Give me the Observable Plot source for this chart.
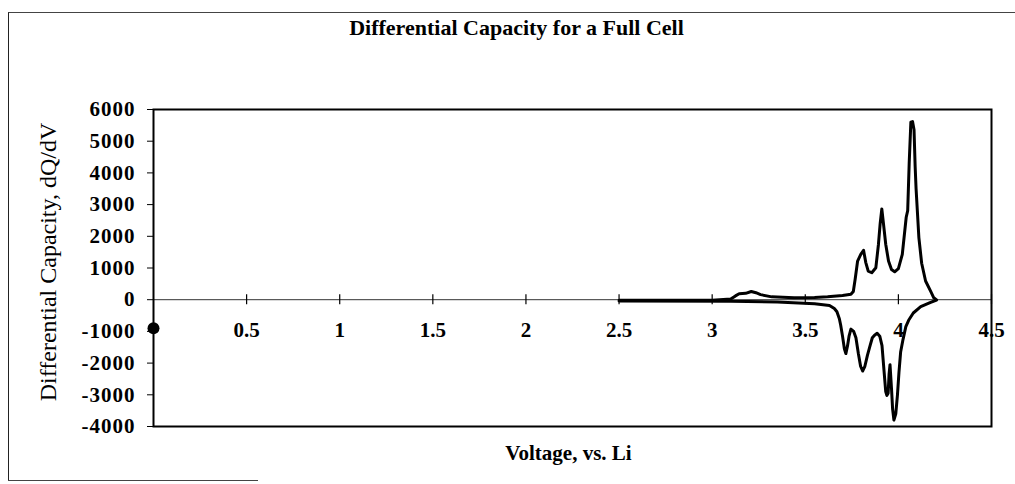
<!DOCTYPE html>
<html><head><meta charset="utf-8">
<script src="https://cdn.jsdelivr.net/npm/d3@7"></script>
<script src="https://cdn.jsdelivr.net/npm/@observablehq/plot@0.6"></script>
<style>
html,body{margin:0;padding:0;background:#fff;}
#wrap{position:relative;width:1015px;height:484px;overflow:hidden;background:#fff;}
#chart{position:absolute;left:0;top:0;}
#chart g[aria-label="y-axis tick label"] text{letter-spacing:1px;}
#outer{position:absolute;left:8px;top:12px;width:1100px;height:468px;border-left:1.5px solid #222;border-top:1.5px solid #444;pointer-events:none;}
#outerBottom{position:absolute;left:8px;top:480px;width:250px;border-top:1.5px solid #444;pointer-events:none;}
</style></head><body>
<div id="wrap"><div id="chart"></div><div id="outer"></div><div id="outerBottom"></div></div>
<script>
// Charge branch (upper, positive dQ/dV)
const chargeV = [2.5, 3.0, 3.1, 3.125, 3.145, 3.18, 3.21, 3.235, 3.26, 3.32, 3.44, 3.55, 3.62, 3.70, 3.745, 3.758, 3.768, 3.781, 3.798, 3.813, 3.825, 3.838, 3.857, 3.879, 3.893, 3.902, 3.911, 3.92, 3.932, 3.947, 3.963, 3.98, 4.0, 4.021, 4.042, 4.05, 4.058, 4.067, 4.076, 4.084, 4.09, 4.095, 4.11, 4.125, 4.146, 4.173, 4.19, 4.205];
const chargeDQ = [-15, -15, 20, 120, 190, 200, 260, 220, 160, 90, 60, 70, 90, 130, 170, 260, 650, 1220, 1430, 1560, 1170, 900, 850, 1010, 1750, 2390, 2860, 2390, 1750, 1220, 950, 880, 980, 1430, 2600, 2810, 4300, 5600, 5620, 5360, 4200, 3500, 1960, 1150, 590, 270, 60, -10];
// Discharge branch (lower, negative dQ/dV), from high to low voltage
const dischargeV = [4.205, 4.17, 4.12, 4.08, 4.055, 4.04, 4.025, 4.012, 4.003, 3.995, 3.986, 3.976, 3.969, 3.963, 3.955, 3.95, 3.945, 3.938, 3.932, 3.923, 3.912, 3.9, 3.886, 3.872, 3.86, 3.848, 3.834, 3.82, 3.808, 3.797, 3.785, 3.772, 3.76, 3.745, 3.735, 3.727, 3.718, 3.71, 3.70, 3.69, 3.683, 3.67, 3.656, 3.63, 3.55, 3.35, 3.1, 2.5];
const dischargeDQ = [-10, -90, -220, -420, -650, -850, -1250, -1650, -2300, -3000, -3600, -3800, -3450, -2800, -2050, -2350, -2950, -3020, -2900, -2250, -1450, -1150, -1060, -1120, -1200, -1450, -1750, -2100, -2250, -2100, -1700, -1200, -1000, -930, -1150, -1450, -1700, -1550, -1150, -800, -600, -380, -280, -180, -130, -75, -45, -40];
// Single marker point
const markerV = [0];
const markerDQ = [-900];
// Axis ticks and labels
const xTicks = [0.5, 1, 1.5, 2, 2.5, 3, 3.5, 4, 4.5];
const xTickLabels = ["0.5", "1", "1.5", "2", "2.5", "3", "3.5", "4", "4.5"];
const yTicks = [-4000, -3000, -2000, -1000, 0, 1000, 2000, 3000, 4000, 5000, 6000];
const titleText = "Differential Capacity for a Full Cell";
const xLabelText = "Voltage, vs. Li";
const yLabelText = "Differential Capacity, dQ/dV";

const loop = [
  ...chargeV.map((v, i) => ({v, q: chargeDQ[i]})),
  ...dischargeV.map((v, i) => ({v, q: dischargeDQ[i]}))
];
const marker = markerV.map((v, i) => ({v, q: markerDQ[i]}));

const plot = Plot.plot({
  width: 1015, height: 484,
  marginLeft: 153, marginRight: 24, marginTop: 109, marginBottom: 58,
  style: {fontFamily: "'Liberation Serif', 'Times New Roman', serif", fontWeight: "bold", color: "#000", background: "transparent", overflow: "visible"},
  x: {domain: [0, 4.5], axis: null},
  y: {domain: [-4000, 6000]},
  marks: [
    Plot.ruleY([0], {stroke: "#333", strokeWidth: 1}),
    Plot.ruleX(xTicks, {x: d => d, y1: -160, y2: 160, stroke: "#000", strokeWidth: 1.2}),
    Plot.text(xTicks, {x: d => d, y: 0, text: (d, i) => xTickLabels[i], dy: 31, lineAnchor: "middle", fontSize: 21, fontWeight: "bold", fill: "#000", style: "letter-spacing:0.8px"}),
    Plot.axisY(yTicks, {anchor: "left", tickSize: 6, tickPadding: 12, tickFormat: d => String(d), fontSize: 21, fontWeight: "bold", label: null, stroke: "#000", fill: "#000"}),
    Plot.line(loop, {x: "v", y: "q", stroke: "#000", strokeWidth: 3, strokeLinejoin: "round"}),
    Plot.dot(marker, {x: "v", y: "q", r: 6, fill: "#000"}),
    Plot.frame({stroke: "#000", strokeWidth: 2}),
    Plot.text([titleText], {frameAnchor: "top", dx: -56, dy: -82, lineAnchor: "middle", fontSize: 22, fontWeight: "bold", fill: "#000"}),
    Plot.text([xLabelText], {frameAnchor: "bottom", dx: -4, dy: 27, lineAnchor: "middle", fontSize: 21, fontWeight: "bold", fill: "#000"}),
    Plot.text([yLabelText], {frameAnchor: "left", dx: -105, dy: -6, rotate: -90, textAnchor: "middle", lineAnchor: "middle", fontSize: 24, fontWeight: "normal", fill: "#000"})
  ]
});
document.getElementById("chart").appendChild(plot);
</script>
</body></html>
